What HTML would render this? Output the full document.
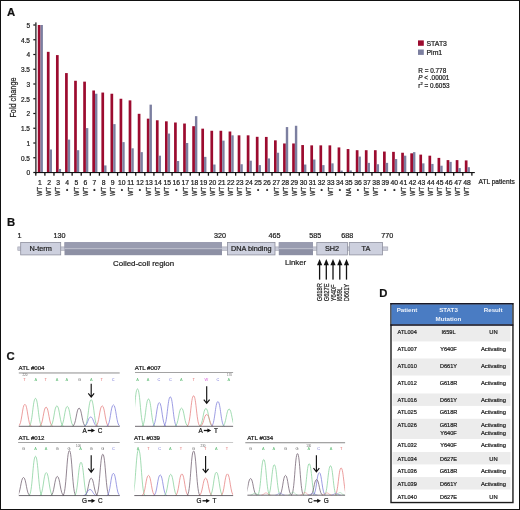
<!DOCTYPE html>
<html lang="en"><head><meta charset="utf-8"><title>STAT3 figure</title>
<style>html,body{margin:0;padding:0;background:#fff}svg{display:block}text{stroke:#222;stroke-width:.22px}text.ns{stroke:none}</style></head>
<body>
<svg width="520" height="510" viewBox="0 0 520 510" font-family='"Liberation Sans", Arial, sans-serif'>
<rect x="0" y="0" width="520" height="510" fill="#fff"/>
<g id="panelA">
<text x="7" y="16.1" font-size="11.3" font-weight="bold" fill="#111">A</text>
<rect x="37.80" y="25.00" width="2.7" height="147.50" fill="#9c0b2f"/>
<rect x="40.50" y="25.00" width="2.4" height="147.50" fill="#7c7fa0"/>
<rect x="46.88" y="51.84" width="2.7" height="120.66" fill="#9c0b2f"/>
<rect x="49.59" y="149.49" width="2.4" height="23.01" fill="#7c7fa0"/>
<rect x="55.97" y="55.09" width="2.7" height="117.41" fill="#9c0b2f"/>
<rect x="58.67" y="168.96" width="2.4" height="3.54" fill="#7c7fa0"/>
<rect x="65.06" y="73.08" width="2.7" height="99.42" fill="#9c0b2f"/>
<rect x="67.76" y="139.61" width="2.4" height="32.89" fill="#7c7fa0"/>
<rect x="74.14" y="80.76" width="2.7" height="91.74" fill="#9c0b2f"/>
<rect x="76.84" y="150.20" width="2.4" height="22.30" fill="#7c7fa0"/>
<rect x="83.22" y="81.64" width="2.7" height="90.86" fill="#9c0b2f"/>
<rect x="85.92" y="128.10" width="2.4" height="44.40" fill="#7c7fa0"/>
<rect x="92.31" y="90.49" width="2.7" height="82.01" fill="#9c0b2f"/>
<rect x="95.01" y="93.73" width="2.4" height="78.77" fill="#7c7fa0"/>
<rect x="101.40" y="92.56" width="2.7" height="79.94" fill="#9c0b2f"/>
<rect x="104.10" y="165.42" width="2.4" height="7.08" fill="#7c7fa0"/>
<rect x="110.48" y="93.73" width="2.7" height="78.77" fill="#9c0b2f"/>
<rect x="113.18" y="124.12" width="2.4" height="48.38" fill="#7c7fa0"/>
<rect x="119.57" y="98.75" width="2.7" height="73.75" fill="#9c0b2f"/>
<rect x="122.27" y="142.12" width="2.4" height="30.39" fill="#7c7fa0"/>
<rect x="128.65" y="100.37" width="2.7" height="72.13" fill="#9c0b2f"/>
<rect x="131.35" y="148.31" width="2.4" height="24.19" fill="#7c7fa0"/>
<rect x="137.74" y="113.80" width="2.7" height="58.70" fill="#9c0b2f"/>
<rect x="140.44" y="152.15" width="2.4" height="20.35" fill="#7c7fa0"/>
<rect x="146.82" y="118.66" width="2.7" height="53.84" fill="#9c0b2f"/>
<rect x="149.52" y="104.65" width="2.4" height="67.85" fill="#7c7fa0"/>
<rect x="155.91" y="120.28" width="2.7" height="52.22" fill="#9c0b2f"/>
<rect x="158.61" y="155.69" width="2.4" height="16.81" fill="#7c7fa0"/>
<rect x="164.99" y="121.32" width="2.7" height="51.18" fill="#9c0b2f"/>
<rect x="167.69" y="133.56" width="2.4" height="38.94" fill="#7c7fa0"/>
<rect x="174.07" y="122.50" width="2.7" height="50.00" fill="#9c0b2f"/>
<rect x="176.77" y="161.00" width="2.4" height="11.51" fill="#7c7fa0"/>
<rect x="183.16" y="123.53" width="2.7" height="48.97" fill="#9c0b2f"/>
<rect x="185.86" y="143.00" width="2.4" height="29.50" fill="#7c7fa0"/>
<rect x="192.25" y="126.19" width="2.7" height="46.32" fill="#9c0b2f"/>
<rect x="194.94" y="116.16" width="2.4" height="56.34" fill="#7c7fa0"/>
<rect x="201.33" y="128.66" width="2.7" height="43.84" fill="#9c0b2f"/>
<rect x="204.03" y="156.87" width="2.4" height="15.64" fill="#7c7fa0"/>
<rect x="210.42" y="130.76" width="2.7" height="41.74" fill="#9c0b2f"/>
<rect x="213.12" y="164.53" width="2.4" height="7.97" fill="#7c7fa0"/>
<rect x="219.50" y="130.76" width="2.7" height="41.74" fill="#9c0b2f"/>
<rect x="222.20" y="140.64" width="2.4" height="31.86" fill="#7c7fa0"/>
<rect x="228.59" y="131.50" width="2.7" height="41.00" fill="#9c0b2f"/>
<rect x="231.29" y="135.33" width="2.4" height="37.17" fill="#7c7fa0"/>
<rect x="237.67" y="135.33" width="2.7" height="37.17" fill="#9c0b2f"/>
<rect x="240.37" y="164.24" width="2.4" height="8.26" fill="#7c7fa0"/>
<rect x="246.75" y="135.33" width="2.7" height="37.17" fill="#9c0b2f"/>
<rect x="249.45" y="160.70" width="2.4" height="11.80" fill="#7c7fa0"/>
<rect x="255.84" y="136.81" width="2.7" height="35.70" fill="#9c0b2f"/>
<rect x="258.54" y="165.12" width="2.4" height="7.38" fill="#7c7fa0"/>
<rect x="264.93" y="136.92" width="2.7" height="35.58" fill="#9c0b2f"/>
<rect x="267.62" y="158.46" width="2.4" height="14.04" fill="#7c7fa0"/>
<rect x="274.01" y="140.34" width="2.7" height="32.16" fill="#9c0b2f"/>
<rect x="276.71" y="152.74" width="2.4" height="19.77" fill="#7c7fa0"/>
<rect x="283.10" y="143.47" width="2.7" height="29.03" fill="#9c0b2f"/>
<rect x="285.80" y="127.07" width="2.4" height="45.43" fill="#7c7fa0"/>
<rect x="292.18" y="143.47" width="2.7" height="29.03" fill="#9c0b2f"/>
<rect x="294.88" y="125.77" width="2.4" height="46.73" fill="#7c7fa0"/>
<rect x="301.27" y="145.06" width="2.7" height="27.44" fill="#9c0b2f"/>
<rect x="303.97" y="164.53" width="2.4" height="7.97" fill="#7c7fa0"/>
<rect x="310.35" y="145.36" width="2.7" height="27.14" fill="#9c0b2f"/>
<rect x="313.05" y="159.52" width="2.4" height="12.98" fill="#7c7fa0"/>
<rect x="319.44" y="145.36" width="2.7" height="27.14" fill="#9c0b2f"/>
<rect x="322.14" y="165.12" width="2.4" height="7.38" fill="#7c7fa0"/>
<rect x="328.52" y="145.36" width="2.7" height="27.14" fill="#9c0b2f"/>
<rect x="331.22" y="163.35" width="2.4" height="9.14" fill="#7c7fa0"/>
<rect x="337.61" y="147.43" width="2.7" height="25.07" fill="#9c0b2f"/>
<rect x="340.31" y="170.58" width="2.4" height="1.92" fill="#7c7fa0"/>
<rect x="346.69" y="149.05" width="2.7" height="23.45" fill="#9c0b2f"/>
<rect x="349.39" y="170.44" width="2.4" height="2.07" fill="#7c7fa0"/>
<rect x="355.78" y="150.20" width="2.7" height="22.30" fill="#9c0b2f"/>
<rect x="358.48" y="156.57" width="2.4" height="15.93" fill="#7c7fa0"/>
<rect x="364.86" y="150.20" width="2.7" height="22.30" fill="#9c0b2f"/>
<rect x="367.56" y="162.88" width="2.4" height="9.62" fill="#7c7fa0"/>
<rect x="373.95" y="150.20" width="2.7" height="22.30" fill="#9c0b2f"/>
<rect x="376.65" y="164.24" width="2.4" height="8.26" fill="#7c7fa0"/>
<rect x="383.03" y="151.56" width="2.7" height="20.95" fill="#9c0b2f"/>
<rect x="385.73" y="162.88" width="2.4" height="9.62" fill="#7c7fa0"/>
<rect x="392.12" y="151.85" width="2.7" height="20.65" fill="#9c0b2f"/>
<rect x="394.82" y="159.05" width="2.4" height="13.45" fill="#7c7fa0"/>
<rect x="401.20" y="152.74" width="2.7" height="19.77" fill="#9c0b2f"/>
<rect x="403.90" y="155.69" width="2.4" height="16.81" fill="#7c7fa0"/>
<rect x="410.29" y="153.32" width="2.7" height="19.18" fill="#9c0b2f"/>
<rect x="412.99" y="152.15" width="2.4" height="20.35" fill="#7c7fa0"/>
<rect x="419.37" y="154.62" width="2.7" height="17.88" fill="#9c0b2f"/>
<rect x="422.07" y="163.35" width="2.4" height="9.14" fill="#7c7fa0"/>
<rect x="428.46" y="155.69" width="2.7" height="16.81" fill="#9c0b2f"/>
<rect x="431.16" y="163.94" width="2.4" height="8.55" fill="#7c7fa0"/>
<rect x="437.54" y="157.90" width="2.7" height="14.60" fill="#9c0b2f"/>
<rect x="440.24" y="165.72" width="2.4" height="6.79" fill="#7c7fa0"/>
<rect x="446.63" y="160.11" width="2.7" height="12.39" fill="#9c0b2f"/>
<rect x="449.33" y="161.88" width="2.4" height="10.62" fill="#7c7fa0"/>
<rect x="455.71" y="160.11" width="2.7" height="12.39" fill="#9c0b2f"/>
<rect x="458.41" y="168.07" width="2.4" height="4.42" fill="#7c7fa0"/>
<rect x="464.80" y="160.41" width="2.7" height="12.09" fill="#9c0b2f"/>
<rect x="467.50" y="167.19" width="2.4" height="5.31" fill="#7c7fa0"/>
<rect x="35.3" y="22.4" width="1.2" height="151" fill="#111"/>
<rect x="35.3" y="172" width="439.5" height="1.1" fill="#111"/>
<rect x="33.3" y="171.90" width="2.2" height="1.2" fill="#111"/>
<text x="30" y="175.30" font-size="6.5" text-anchor="end" fill="#222">0</text>
<rect x="33.3" y="157.15" width="2.2" height="1.2" fill="#111"/>
<text x="30" y="160.55" font-size="6.5" text-anchor="end" fill="#222">0.5</text>
<rect x="33.3" y="142.40" width="2.2" height="1.2" fill="#111"/>
<text x="30" y="145.80" font-size="6.5" text-anchor="end" fill="#222">1</text>
<rect x="33.3" y="127.65" width="2.2" height="1.2" fill="#111"/>
<text x="30" y="131.05" font-size="6.5" text-anchor="end" fill="#222">1.5</text>
<rect x="33.3" y="112.90" width="2.2" height="1.2" fill="#111"/>
<text x="30" y="116.30" font-size="6.5" text-anchor="end" fill="#222">2</text>
<rect x="33.3" y="98.15" width="2.2" height="1.2" fill="#111"/>
<text x="30" y="101.55" font-size="6.5" text-anchor="end" fill="#222">2.5</text>
<rect x="33.3" y="83.40" width="2.2" height="1.2" fill="#111"/>
<text x="30" y="86.80" font-size="6.5" text-anchor="end" fill="#222">3</text>
<rect x="33.3" y="68.65" width="2.2" height="1.2" fill="#111"/>
<text x="30" y="72.05" font-size="6.5" text-anchor="end" fill="#222">3.5</text>
<rect x="33.3" y="53.90" width="2.2" height="1.2" fill="#111"/>
<text x="30" y="57.30" font-size="6.5" text-anchor="end" fill="#222">4</text>
<rect x="33.3" y="39.15" width="2.2" height="1.2" fill="#111"/>
<text x="30" y="42.55" font-size="6.5" text-anchor="end" fill="#222">4.5</text>
<rect x="33.3" y="24.40" width="2.2" height="1.2" fill="#111"/>
<text x="30" y="27.80" font-size="6.5" text-anchor="end" fill="#222">5</text>
<rect x="35.15" y="172.5" width="1.3" height="3.2" fill="#111"/>
<rect x="44.23" y="172.5" width="1.3" height="3.2" fill="#111"/>
<rect x="53.32" y="172.5" width="1.3" height="3.2" fill="#111"/>
<rect x="62.41" y="172.5" width="1.3" height="3.2" fill="#111"/>
<rect x="71.49" y="172.5" width="1.3" height="3.2" fill="#111"/>
<rect x="80.57" y="172.5" width="1.3" height="3.2" fill="#111"/>
<rect x="89.66" y="172.5" width="1.3" height="3.2" fill="#111"/>
<rect x="98.75" y="172.5" width="1.3" height="3.2" fill="#111"/>
<rect x="107.83" y="172.5" width="1.3" height="3.2" fill="#111"/>
<rect x="116.92" y="172.5" width="1.3" height="3.2" fill="#111"/>
<rect x="126.00" y="172.5" width="1.3" height="3.2" fill="#111"/>
<rect x="135.09" y="172.5" width="1.3" height="3.2" fill="#111"/>
<rect x="144.17" y="172.5" width="1.3" height="3.2" fill="#111"/>
<rect x="153.26" y="172.5" width="1.3" height="3.2" fill="#111"/>
<rect x="162.34" y="172.5" width="1.3" height="3.2" fill="#111"/>
<rect x="171.42" y="172.5" width="1.3" height="3.2" fill="#111"/>
<rect x="180.51" y="172.5" width="1.3" height="3.2" fill="#111"/>
<rect x="189.59" y="172.5" width="1.3" height="3.2" fill="#111"/>
<rect x="198.68" y="172.5" width="1.3" height="3.2" fill="#111"/>
<rect x="207.77" y="172.5" width="1.3" height="3.2" fill="#111"/>
<rect x="216.85" y="172.5" width="1.3" height="3.2" fill="#111"/>
<rect x="225.94" y="172.5" width="1.3" height="3.2" fill="#111"/>
<rect x="235.02" y="172.5" width="1.3" height="3.2" fill="#111"/>
<rect x="244.10" y="172.5" width="1.3" height="3.2" fill="#111"/>
<rect x="253.19" y="172.5" width="1.3" height="3.2" fill="#111"/>
<rect x="262.28" y="172.5" width="1.3" height="3.2" fill="#111"/>
<rect x="271.36" y="172.5" width="1.3" height="3.2" fill="#111"/>
<rect x="280.45" y="172.5" width="1.3" height="3.2" fill="#111"/>
<rect x="289.53" y="172.5" width="1.3" height="3.2" fill="#111"/>
<rect x="298.62" y="172.5" width="1.3" height="3.2" fill="#111"/>
<rect x="307.70" y="172.5" width="1.3" height="3.2" fill="#111"/>
<rect x="316.79" y="172.5" width="1.3" height="3.2" fill="#111"/>
<rect x="325.87" y="172.5" width="1.3" height="3.2" fill="#111"/>
<rect x="334.96" y="172.5" width="1.3" height="3.2" fill="#111"/>
<rect x="344.04" y="172.5" width="1.3" height="3.2" fill="#111"/>
<rect x="353.13" y="172.5" width="1.3" height="3.2" fill="#111"/>
<rect x="362.21" y="172.5" width="1.3" height="3.2" fill="#111"/>
<rect x="371.30" y="172.5" width="1.3" height="3.2" fill="#111"/>
<rect x="380.38" y="172.5" width="1.3" height="3.2" fill="#111"/>
<rect x="389.47" y="172.5" width="1.3" height="3.2" fill="#111"/>
<rect x="398.55" y="172.5" width="1.3" height="3.2" fill="#111"/>
<rect x="407.64" y="172.5" width="1.3" height="3.2" fill="#111"/>
<rect x="416.72" y="172.5" width="1.3" height="3.2" fill="#111"/>
<rect x="425.81" y="172.5" width="1.3" height="3.2" fill="#111"/>
<rect x="434.89" y="172.5" width="1.3" height="3.2" fill="#111"/>
<rect x="443.98" y="172.5" width="1.3" height="3.2" fill="#111"/>
<rect x="453.06" y="172.5" width="1.3" height="3.2" fill="#111"/>
<rect x="462.15" y="172.5" width="1.3" height="3.2" fill="#111"/>
<rect x="471.23" y="172.5" width="1.3" height="3.2" fill="#111"/>
<text x="40.00" y="184.5" font-size="6.8" text-anchor="middle" fill="#222">1</text>
<text transform="translate(42.30,195.9) rotate(-90) scale(0.9,1)" font-size="6.4" fill="#222">WT</text>
<text x="49.09" y="184.5" font-size="6.8" text-anchor="middle" fill="#222">2</text>
<text transform="translate(51.38,195.9) rotate(-90) scale(0.9,1)" font-size="6.4" fill="#222">WT</text>
<text x="58.17" y="184.5" font-size="6.8" text-anchor="middle" fill="#222">3</text>
<text transform="translate(60.47,195.9) rotate(-90) scale(0.9,1)" font-size="6.4" fill="#222">WT</text>
<text x="67.25" y="184.5" font-size="6.8" text-anchor="middle" fill="#222">4</text>
<text x="67.25" y="191.5" font-size="6.5" text-anchor="middle" fill="#222">•</text>
<text x="76.34" y="184.5" font-size="6.8" text-anchor="middle" fill="#222">5</text>
<text transform="translate(78.64,195.9) rotate(-90) scale(0.9,1)" font-size="6.4" fill="#222">WT</text>
<text x="85.43" y="184.5" font-size="6.8" text-anchor="middle" fill="#222">6</text>
<text transform="translate(87.73,195.9) rotate(-90) scale(0.9,1)" font-size="6.4" fill="#222">WT</text>
<text x="94.51" y="184.5" font-size="6.8" text-anchor="middle" fill="#222">7</text>
<text x="94.51" y="191.5" font-size="6.5" text-anchor="middle" fill="#222">•</text>
<text x="103.59" y="184.5" font-size="6.8" text-anchor="middle" fill="#222">8</text>
<text transform="translate(105.89,195.9) rotate(-90) scale(0.9,1)" font-size="6.4" fill="#222">WT</text>
<text x="112.68" y="184.5" font-size="6.8" text-anchor="middle" fill="#222">9</text>
<text transform="translate(114.98,195.9) rotate(-90) scale(0.9,1)" font-size="6.4" fill="#222">WT</text>
<text x="121.77" y="184.5" font-size="6.8" text-anchor="middle" fill="#222">10</text>
<text x="121.77" y="191.5" font-size="6.5" text-anchor="middle" fill="#222">•</text>
<text x="130.85" y="184.5" font-size="6.8" text-anchor="middle" fill="#222">11</text>
<text transform="translate(133.15,195.9) rotate(-90) scale(0.9,1)" font-size="6.4" fill="#222">WT</text>
<text x="139.94" y="184.5" font-size="6.8" text-anchor="middle" fill="#222">12</text>
<text x="139.94" y="191.5" font-size="6.5" text-anchor="middle" fill="#222">•</text>
<text x="149.02" y="184.5" font-size="6.8" text-anchor="middle" fill="#222">13</text>
<text transform="translate(151.32,195.9) rotate(-90) scale(0.9,1)" font-size="6.4" fill="#222">WT</text>
<text x="158.11" y="184.5" font-size="6.8" text-anchor="middle" fill="#222">14</text>
<text transform="translate(160.41,195.9) rotate(-90) scale(0.9,1)" font-size="6.4" fill="#222">WT</text>
<text x="167.19" y="184.5" font-size="6.8" text-anchor="middle" fill="#222">15</text>
<text transform="translate(169.49,195.9) rotate(-90) scale(0.9,1)" font-size="6.4" fill="#222">WT</text>
<text x="176.28" y="184.5" font-size="6.8" text-anchor="middle" fill="#222">16</text>
<text x="176.28" y="191.5" font-size="6.5" text-anchor="middle" fill="#222">•</text>
<text x="185.36" y="184.5" font-size="6.8" text-anchor="middle" fill="#222">17</text>
<text transform="translate(187.66,195.9) rotate(-90) scale(0.9,1)" font-size="6.4" fill="#222">WT</text>
<text x="194.45" y="184.5" font-size="6.8" text-anchor="middle" fill="#222">18</text>
<text transform="translate(196.75,195.9) rotate(-90) scale(0.9,1)" font-size="6.4" fill="#222">WT</text>
<text x="203.53" y="184.5" font-size="6.8" text-anchor="middle" fill="#222">19</text>
<text transform="translate(205.83,195.9) rotate(-90) scale(0.9,1)" font-size="6.4" fill="#222">WT</text>
<text x="212.62" y="184.5" font-size="6.8" text-anchor="middle" fill="#222">20</text>
<text transform="translate(214.92,195.9) rotate(-90) scale(0.9,1)" font-size="6.4" fill="#222">WT</text>
<text x="221.70" y="184.5" font-size="6.8" text-anchor="middle" fill="#222">21</text>
<text transform="translate(224.00,195.9) rotate(-90) scale(0.9,1)" font-size="6.4" fill="#222">WT</text>
<text x="230.79" y="184.5" font-size="6.8" text-anchor="middle" fill="#222">22</text>
<text transform="translate(233.09,195.9) rotate(-90) scale(0.9,1)" font-size="6.4" fill="#222">WT</text>
<text x="239.87" y="184.5" font-size="6.8" text-anchor="middle" fill="#222">23</text>
<text transform="translate(242.17,195.9) rotate(-90) scale(0.9,1)" font-size="6.4" fill="#222">WT</text>
<text x="248.96" y="184.5" font-size="6.8" text-anchor="middle" fill="#222">24</text>
<text transform="translate(251.26,195.9) rotate(-90) scale(0.9,1)" font-size="6.4" fill="#222">WT</text>
<text x="258.04" y="184.5" font-size="6.8" text-anchor="middle" fill="#222">25</text>
<text x="258.04" y="191.5" font-size="6.5" text-anchor="middle" fill="#222">•</text>
<text x="267.12" y="184.5" font-size="6.8" text-anchor="middle" fill="#222">26</text>
<text x="267.12" y="191.5" font-size="6.5" text-anchor="middle" fill="#222">•</text>
<text x="276.21" y="184.5" font-size="6.8" text-anchor="middle" fill="#222">27</text>
<text transform="translate(278.51,195.9) rotate(-90) scale(0.9,1)" font-size="6.4" fill="#222">WT</text>
<text x="285.30" y="184.5" font-size="6.8" text-anchor="middle" fill="#222">28</text>
<text transform="translate(287.60,195.9) rotate(-90) scale(0.9,1)" font-size="6.4" fill="#222">WT</text>
<text x="294.38" y="184.5" font-size="6.8" text-anchor="middle" fill="#222">29</text>
<text transform="translate(296.68,195.9) rotate(-90) scale(0.9,1)" font-size="6.4" fill="#222">WT</text>
<text x="303.47" y="184.5" font-size="6.8" text-anchor="middle" fill="#222">30</text>
<text transform="translate(305.77,195.9) rotate(-90) scale(0.9,1)" font-size="6.4" fill="#222">WT</text>
<text x="312.55" y="184.5" font-size="6.8" text-anchor="middle" fill="#222">31</text>
<text transform="translate(314.85,195.9) rotate(-90) scale(0.9,1)" font-size="6.4" fill="#222">WT</text>
<text x="321.64" y="184.5" font-size="6.8" text-anchor="middle" fill="#222">32</text>
<text x="321.64" y="191.5" font-size="6.5" text-anchor="middle" fill="#222">•</text>
<text x="330.72" y="184.5" font-size="6.8" text-anchor="middle" fill="#222">33</text>
<text transform="translate(333.02,195.9) rotate(-90) scale(0.9,1)" font-size="6.4" fill="#222">WT</text>
<text x="339.81" y="184.5" font-size="6.8" text-anchor="middle" fill="#222">34</text>
<text x="339.81" y="191.5" font-size="6.5" text-anchor="middle" fill="#222">•</text>
<text x="348.89" y="184.5" font-size="6.8" text-anchor="middle" fill="#222">35</text>
<text transform="translate(351.19,195.9) rotate(-90) scale(0.9,1)" font-size="6.4" fill="#222">NA</text>
<text x="357.98" y="184.5" font-size="6.8" text-anchor="middle" fill="#222">36</text>
<text x="357.98" y="191.5" font-size="6.5" text-anchor="middle" fill="#222">•</text>
<text x="367.06" y="184.5" font-size="6.8" text-anchor="middle" fill="#222">37</text>
<text transform="translate(369.36,195.9) rotate(-90) scale(0.9,1)" font-size="6.4" fill="#222">WT</text>
<text x="376.15" y="184.5" font-size="6.8" text-anchor="middle" fill="#222">38</text>
<text transform="translate(378.45,195.9) rotate(-90) scale(0.9,1)" font-size="6.4" fill="#222">WT</text>
<text x="385.23" y="184.5" font-size="6.8" text-anchor="middle" fill="#222">39</text>
<text x="385.23" y="191.5" font-size="6.5" text-anchor="middle" fill="#222">•</text>
<text x="394.32" y="184.5" font-size="6.8" text-anchor="middle" fill="#222">40</text>
<text x="394.32" y="191.5" font-size="6.5" text-anchor="middle" fill="#222">•</text>
<text x="403.40" y="184.5" font-size="6.8" text-anchor="middle" fill="#222">41</text>
<text transform="translate(405.70,195.9) rotate(-90) scale(0.9,1)" font-size="6.4" fill="#222">WT</text>
<text x="412.49" y="184.5" font-size="6.8" text-anchor="middle" fill="#222">42</text>
<text transform="translate(414.79,195.9) rotate(-90) scale(0.9,1)" font-size="6.4" fill="#222">WT</text>
<text x="421.57" y="184.5" font-size="6.8" text-anchor="middle" fill="#222">43</text>
<text transform="translate(423.87,195.9) rotate(-90) scale(0.9,1)" font-size="6.4" fill="#222">WT</text>
<text x="430.66" y="184.5" font-size="6.8" text-anchor="middle" fill="#222">44</text>
<text transform="translate(432.96,195.9) rotate(-90) scale(0.9,1)" font-size="6.4" fill="#222">WT</text>
<text x="439.74" y="184.5" font-size="6.8" text-anchor="middle" fill="#222">45</text>
<text transform="translate(442.04,195.9) rotate(-90) scale(0.9,1)" font-size="6.4" fill="#222">WT</text>
<text x="448.83" y="184.5" font-size="6.8" text-anchor="middle" fill="#222">46</text>
<text transform="translate(451.13,195.9) rotate(-90) scale(0.9,1)" font-size="6.4" fill="#222">WT</text>
<text x="457.91" y="184.5" font-size="6.8" text-anchor="middle" fill="#222">47</text>
<text transform="translate(460.21,195.9) rotate(-90) scale(0.9,1)" font-size="6.4" fill="#222">WT</text>
<text x="467.00" y="184.5" font-size="6.8" text-anchor="middle" fill="#222">48</text>
<text transform="translate(469.30,195.9) rotate(-90) scale(0.9,1)" font-size="6.4" fill="#222">WT</text>
<text x="478.5" y="184.4" font-size="6.6" fill="#222">ATL patients</text>
<text transform="translate(16.2,117.6) rotate(-90) scale(0.89,1)" font-size="8.2" fill="#222">Fold change</text>
<rect x="418" y="40.4" width="5.8" height="5.4" fill="#9c0b2f"/>
<rect x="418" y="49.5" width="5.8" height="5.4" fill="#7c7fa0"/>
<text x="426.5" y="45.8" font-size="6.9" fill="#222">STAT3</text>
<text x="426.5" y="54.8" font-size="6.9" fill="#222">Pim1</text>
<text x="418.3" y="72.8" font-size="6.4" fill="#222">R = 0.778</text>
<text x="418.3" y="80.2" font-size="6.4" fill="#222"><tspan font-style="italic">P</tspan> &lt; .00001</text>
<text x="418.3" y="87.8" font-size="6.4" fill="#222">r<tspan font-size="4" dy="-2.6">2</tspan><tspan dy="2.6"> = 0.6053</tspan></text>
</g>
<g id="panelB">
<text x="7" y="225.6" font-size="11.3" font-weight="bold" fill="#111">B</text>
<rect x="17.8" y="246.9" width="370" height="3.4" fill="#c9cbd8" stroke="#a0a2b0" stroke-width="0.6"/>
<rect x="20.7" y="242.5" width="40.0" height="12.4" fill="#cdd0de" stroke="#8e909e" stroke-width="0.8"/>
<text x="40.70" y="251.2" font-size="7.3" text-anchor="middle" fill="#222">N-term</text>
<rect x="64.5" y="242.2" width="157.5" height="13" fill="#8d90a4"/>
<rect x="64.5" y="242.2" width="157.5" height="6" fill="#999cb0"/>
<rect x="64.5" y="248" width="157.5" height="1.2" fill="#b9bbc9"/>
<rect x="227.5" y="242.5" width="47.5" height="12.4" fill="#cdd0de" stroke="#8e909e" stroke-width="0.8"/>
<text x="251.25" y="251.2" font-size="7.3" text-anchor="middle" fill="#222">DNA binding</text>
<rect x="278.8" y="242.2" width="34.19999999999999" height="13" fill="#8d90a4"/>
<rect x="278.8" y="242.2" width="34.19999999999999" height="6" fill="#999cb0"/>
<rect x="278.8" y="248" width="34.19999999999999" height="1.2" fill="#b9bbc9"/>
<rect x="316.8" y="242.5" width="30.599999999999966" height="12.4" fill="#cdd0de" stroke="#8e909e" stroke-width="0.8"/>
<text x="332.10" y="251.2" font-size="7.3" text-anchor="middle" fill="#222">SH2</text>
<rect x="349.3" y="242.5" width="33.19999999999999" height="12.4" fill="#cdd0de" stroke="#8e909e" stroke-width="0.8"/>
<text x="365.90" y="251.2" font-size="7.3" text-anchor="middle" fill="#222">TA</text>
<text x="19.5" y="238.1" font-size="7.2" text-anchor="middle" fill="#222">1</text>
<text x="59.4" y="238.1" font-size="7.2" text-anchor="middle" fill="#222">130</text>
<text x="220" y="238.1" font-size="7.2" text-anchor="middle" fill="#222">320</text>
<text x="274.6" y="238.1" font-size="7.2" text-anchor="middle" fill="#222">465</text>
<text x="315.2" y="238.1" font-size="7.2" text-anchor="middle" fill="#222">585</text>
<text x="347.2" y="238.1" font-size="7.2" text-anchor="middle" fill="#222">688</text>
<text x="387.2" y="238.1" font-size="7.2" text-anchor="middle" fill="#222">770</text>
<text x="143.6" y="265.6" font-size="7.9" text-anchor="middle" fill="#222">Coiled-coil region</text>
<text x="295.6" y="265.4" font-size="7.8" text-anchor="middle" fill="#222">Linker</text>
<rect x="318.95" y="263" width="1.3" height="16.6" fill="#111"/>
<path d="M319.6,258.9 L322.20000000000005,265.2 L317.0,265.2 Z" fill="#111"/>
<text transform="translate(322.10,301.3) rotate(-90) scale(0.83,1)" font-size="6.9" fill="#222">G618R</text>
<rect x="325.65" y="263" width="1.3" height="16.6" fill="#111"/>
<path d="M326.3,258.9 L328.90000000000003,265.2 L323.7,265.2 Z" fill="#111"/>
<text transform="translate(328.80,301.3) rotate(-90) scale(0.83,1)" font-size="6.9" fill="#222">G627E</text>
<rect x="332.35" y="263" width="1.3" height="16.6" fill="#111"/>
<path d="M333.0,258.9 L335.6,265.2 L330.4,265.2 Z" fill="#111"/>
<text transform="translate(335.50,301.3) rotate(-90) scale(0.83,1)" font-size="6.9" fill="#222">Y640F</text>
<rect x="339.15" y="263" width="1.3" height="16.6" fill="#111"/>
<path d="M339.8,258.9 L342.40000000000003,265.2 L337.2,265.2 Z" fill="#111"/>
<text transform="translate(342.30,301.3) rotate(-90) scale(0.83,1)" font-size="6.9" fill="#222">I659L</text>
<rect x="345.85" y="263" width="1.3" height="16.6" fill="#111"/>
<path d="M346.5,258.9 L349.1,265.2 L343.9,265.2 Z" fill="#111"/>
<text transform="translate(349.00,301.3) rotate(-90) scale(0.83,1)" font-size="6.9" fill="#222">D661Y</text>
</g>
<g id="panelC">
<text x="6.6" y="360.2" font-size="11.3" font-weight="bold" fill="#111">C</text>
<clipPath id="cl1"><rect x="18.8" y="372.6" width="100.9" height="55.5"/></clipPath>
<text x="18.6" y="369.8" font-size="6.15" fill="#111">ATL #004</text>
<rect x="18.8" y="372.2" width="100.9" height="1.5" fill="#b4b4b4"/>
<g clip-path="url(#cl1)">
<path d="M18.30,426.10 C21.93,426.10 22.13,404.30 24.90,404.30 C27.67,404.30 27.87,426.10 31.50,426.10" fill="none" stroke="#e67e7e" stroke-width="0.75"/>
<path d="M28.90,426.10 C32.53,426.10 32.73,398.40 35.50,398.40 C38.27,398.40 38.47,426.10 42.10,426.10" fill="none" stroke="#84d09a" stroke-width="0.75"/>
<path d="M39.50,426.10 C43.13,426.10 43.33,407.10 46.10,407.10 C48.87,407.10 49.07,426.10 52.70,426.10" fill="none" stroke="#e67e7e" stroke-width="0.75"/>
<path d="M50.30,426.10 C53.93,426.10 54.13,405.80 56.90,405.80 C59.67,405.80 59.87,426.10 63.50,426.10" fill="none" stroke="#84d09a" stroke-width="0.75"/>
<path d="M60.70,426.10 C64.33,426.10 64.53,406.40 67.30,406.40 C70.07,406.40 70.27,426.10 73.90,426.10" fill="none" stroke="#84d09a" stroke-width="0.75"/>
<path d="M72.50,426.10 C76.13,426.10 76.33,408.10 79.10,408.10 C81.87,408.10 82.07,426.10 85.70,426.10" fill="none" stroke="#6d5c6c" stroke-width="0.75"/>
<path d="M84.60,426.10 C88.23,426.10 88.43,399.70 91.20,399.70 C93.97,399.70 94.17,426.10 97.80,426.10" fill="none" stroke="#84d09a" stroke-width="0.75"/>
<path d="M84.10,426.10 C87.73,426.10 87.93,417.00 90.70,417.00 C93.47,417.00 93.67,426.10 97.30,426.10" fill="none" stroke="#7c7cda" stroke-width="0.75"/>
<path d="M95.60,426.10 C99.23,426.10 99.43,405.80 102.20,405.80 C104.97,405.80 105.17,426.10 108.80,426.10" fill="none" stroke="#e67e7e" stroke-width="0.75"/>
<path d="M106.80,426.10 C110.43,426.10 110.63,404.90 113.40,404.90 C116.17,404.90 116.37,426.10 120.00,426.10" fill="none" stroke="#7c7cda" stroke-width="0.75"/>
</g>
<rect x="18.8" y="425.85" width="100.9" height="0.8" fill="#4a444c"/>
<text x="24.5" y="380.7" class="ns" font-size="3.9" text-anchor="middle" fill="#e06a6a" stroke="#e06a6a" stroke-width="0.12">T</text>
<text x="35.75" y="380.7" class="ns" font-size="3.9" text-anchor="middle" fill="#62bd78" stroke="#62bd78" stroke-width="0.12">A</text>
<text x="45.75" y="380.7" class="ns" font-size="3.9" text-anchor="middle" fill="#e06a6a" stroke="#e06a6a" stroke-width="0.12">T</text>
<text x="57" y="380.7" class="ns" font-size="3.9" text-anchor="middle" fill="#62bd78" stroke="#62bd78" stroke-width="0.12">A</text>
<text x="66.75" y="380.7" class="ns" font-size="3.9" text-anchor="middle" fill="#62bd78" stroke="#62bd78" stroke-width="0.12">A</text>
<text x="79.5" y="380.7" class="ns" font-size="3.9" text-anchor="middle" fill="#555" stroke="#555" stroke-width="0.12">G</text>
<text x="91.25" y="380.7" class="ns" font-size="3.9" text-anchor="middle" fill="#62bd78" stroke="#62bd78" stroke-width="0.12">A</text>
<text x="101.75" y="380.7" class="ns" font-size="3.9" text-anchor="middle" fill="#e06a6a" stroke="#e06a6a" stroke-width="0.12">T</text>
<text x="113.25" y="380.7" class="ns" font-size="3.9" text-anchor="middle" fill="#6c6cd4" stroke="#6c6cd4" stroke-width="0.12">C</text>
<text x="25" y="376.3" class="ns" font-size="3" text-anchor="middle" fill="#666">220</text>
<path d="M91.2,383.8 L91.2,396.4 M88.3,393.3 L91.2,397 L94.10000000000001,393.3" fill="none" stroke="#111" stroke-width="1.15"/>
<text x="86.7" y="432.8" font-size="6.4" text-anchor="end" fill="#111">A</text>
<rect x="87.7" y="429.85" width="4.6" height="1.3" fill="#111"/>
<path d="M95.10000000000001,430.5 L91.30000000000001,428.4 L91.30000000000001,432.6 Z" fill="#111"/>
<text x="97.80000000000001" y="432.8" font-size="6.4" fill="#111">C</text>
<clipPath id="cl2"><rect x="135" y="372.6" width="98.1" height="55.5"/></clipPath>
<text x="134.8" y="370.40000000000003" font-size="6.15" fill="#111">ATL #007</text>
<rect x="135" y="372.2" width="98.1" height="0.8" fill="#8c8c8c"/>
<g clip-path="url(#cl2)">
<path d="M130.90,426.10 C134.53,426.10 134.73,388.90 137.50,388.90 C140.27,388.90 140.47,426.10 144.10,426.10" fill="none" stroke="#84d09a" stroke-width="0.75"/>
<path d="M141.90,426.10 C145.53,426.10 145.73,399.00 148.50,399.00 C151.27,399.00 151.47,426.10 155.10,426.10" fill="none" stroke="#84d09a" stroke-width="0.75"/>
<path d="M152.70,426.10 C156.33,426.10 156.53,402.60 159.30,402.60 C162.07,402.60 162.27,426.10 165.90,426.10" fill="none" stroke="#7c7cda" stroke-width="0.75"/>
<path d="M163.70,426.10 C167.33,426.10 167.53,396.90 170.30,396.90 C173.07,396.90 173.27,426.10 176.90,426.10" fill="none" stroke="#7c7cda" stroke-width="0.75"/>
<path d="M174.90,426.10 C178.53,426.10 178.73,408.10 181.50,408.10 C184.27,408.10 184.47,426.10 188.10,426.10" fill="none" stroke="#84d09a" stroke-width="0.75"/>
<path d="M187.00,426.10 C190.63,426.10 190.83,395.80 193.60,395.80 C196.37,395.80 196.57,426.10 200.20,426.10" fill="none" stroke="#e67e7e" stroke-width="0.75"/>
<path d="M199.30,426.10 C202.93,426.10 203.13,408.50 205.90,408.50 C208.67,408.50 208.87,426.10 212.50,426.10" fill="none" stroke="#84d09a" stroke-width="0.75"/>
<path d="M200.10,426.10 C203.73,426.10 203.93,414.50 206.70,414.50 C209.47,414.50 209.67,426.10 213.30,426.10" fill="none" stroke="#e67e7e" stroke-width="0.75"/>
<path d="M211.30,426.10 C214.93,426.10 215.13,401.60 217.90,401.60 C220.67,401.60 220.87,426.10 224.50,426.10" fill="none" stroke="#7c7cda" stroke-width="0.75"/>
<path d="M222.50,426.10 C226.13,426.10 226.33,409.00 229.10,409.00 C231.87,409.00 232.07,426.10 235.70,426.10" fill="none" stroke="#84d09a" stroke-width="0.75"/>
</g>
<rect x="135" y="425.85" width="98.1" height="0.8" fill="#4a444c"/>
<text x="137.5" y="380.5" class="ns" font-size="3.9" text-anchor="middle" fill="#62bd78" stroke="#62bd78" stroke-width="0.12">A</text>
<text x="148" y="380.5" class="ns" font-size="3.9" text-anchor="middle" fill="#62bd78" stroke="#62bd78" stroke-width="0.12">A</text>
<text x="159" y="380.5" class="ns" font-size="3.9" text-anchor="middle" fill="#6c6cd4" stroke="#6c6cd4" stroke-width="0.12">C</text>
<text x="170.3" y="380.5" class="ns" font-size="3.9" text-anchor="middle" fill="#6c6cd4" stroke="#6c6cd4" stroke-width="0.12">C</text>
<text x="181.3" y="380.5" class="ns" font-size="3.9" text-anchor="middle" fill="#62bd78" stroke="#62bd78" stroke-width="0.12">A</text>
<text x="193.6" y="380.5" class="ns" font-size="3.9" text-anchor="middle" fill="#e06a6a" stroke="#e06a6a" stroke-width="0.12">T</text>
<text x="206.3" y="380.5" class="ns" font-size="3.9" text-anchor="middle" fill="#d458d4" stroke="#d458d4" stroke-width="0.12">W</text>
<text x="217.9" y="380.5" class="ns" font-size="3.9" text-anchor="middle" fill="#6c6cd4" stroke="#6c6cd4" stroke-width="0.12">C</text>
<text x="228.9" y="380.5" class="ns" font-size="3.9" text-anchor="middle" fill="#62bd78" stroke="#62bd78" stroke-width="0.12">A</text>
<text x="229.5" y="376.3" class="ns" font-size="3" text-anchor="middle" fill="#666">170</text>
<path d="M206.7,386.3 L206.7,402.7 M203.79999999999998,399.6 L206.7,403.3 L209.6,399.6" fill="none" stroke="#111" stroke-width="1.15"/>
<text x="202.8" y="432.8" font-size="6.4" text-anchor="end" fill="#111">A</text>
<rect x="203.8" y="429.85" width="4.6" height="1.3" fill="#111"/>
<path d="M211.2,430.5 L207.4,428.4 L207.4,432.6 Z" fill="#111"/>
<text x="213.9" y="432.8" font-size="6.4" fill="#111">T</text>
<clipPath id="cl3"><rect x="18.8" y="443" width="100.9" height="54.5"/></clipPath>
<text x="18.6" y="439.90000000000003" font-size="6.15" fill="#111">ATL #012</text>
<rect x="18.1" y="442.1" width="101.6" height="0.9" fill="#9a9a9a"/>
<g clip-path="url(#cl3)">
<path d="M16.90,495.50 C20.53,495.50 20.73,477.50 23.50,477.50 C26.27,477.50 26.47,495.50 30.10,495.50" fill="none" stroke="#6d5c6c" stroke-width="0.75"/>
<path d="M28.90,495.50 C32.53,495.50 32.73,456.30 35.50,456.30 C38.27,456.30 38.47,495.50 42.10,495.50" fill="none" stroke="#84d09a" stroke-width="0.75"/>
<path d="M39.70,495.50 C43.33,495.50 43.53,472.60 46.30,472.60 C49.07,472.60 49.27,495.50 52.90,495.50" fill="none" stroke="#84d09a" stroke-width="0.75"/>
<path d="M50.70,495.50 C54.33,495.50 54.53,476.40 57.30,476.40 C60.07,476.40 60.27,495.50 63.90,495.50" fill="none" stroke="#6d5c6c" stroke-width="0.75"/>
<path d="M62.80,495.50 C66.43,495.50 66.63,450.60 69.40,450.60 C72.17,450.60 72.37,495.50 76.00,495.50" fill="none" stroke="#6d5c6c" stroke-width="0.75"/>
<path d="M74.40,495.50 C78.03,495.50 78.23,462.30 81.00,462.30 C83.77,462.30 83.97,495.50 87.60,495.50" fill="none" stroke="#84d09a" stroke-width="0.75"/>
<path d="M84.60,495.50 C88.23,495.50 88.43,478.10 91.20,478.10 C93.97,478.10 94.17,495.50 97.80,495.50" fill="none" stroke="#6d5c6c" stroke-width="0.75"/>
<path d="M83.40,495.50 C87.03,495.50 87.23,489.50 90.00,489.50 C92.77,489.50 92.97,495.50 96.60,495.50" fill="none" stroke="#7c7cda" stroke-width="0.75"/>
<path d="M96.20,495.50 C99.83,495.50 100.03,454.20 102.80,454.20 C105.57,454.20 105.77,495.50 109.40,495.50" fill="none" stroke="#6d5c6c" stroke-width="0.75"/>
<path d="M106.80,495.50 C110.43,495.50 110.63,473.30 113.40,473.30 C116.17,473.30 116.37,495.50 120.00,495.50" fill="none" stroke="#7c7cda" stroke-width="0.75"/>
</g>
<rect x="18.8" y="495.25" width="100.9" height="0.8" fill="#4a444c"/>
<text x="23.5" y="449.7" class="ns" font-size="3.9" text-anchor="middle" fill="#555" stroke="#555" stroke-width="0.12">G</text>
<text x="35.5" y="449.7" class="ns" font-size="3.9" text-anchor="middle" fill="#62bd78" stroke="#62bd78" stroke-width="0.12">A</text>
<text x="46.1" y="449.7" class="ns" font-size="3.9" text-anchor="middle" fill="#62bd78" stroke="#62bd78" stroke-width="0.12">A</text>
<text x="57.3" y="449.7" class="ns" font-size="3.9" text-anchor="middle" fill="#555" stroke="#555" stroke-width="0.12">G</text>
<text x="68.9" y="449.7" class="ns" font-size="3.9" text-anchor="middle" fill="#555" stroke="#555" stroke-width="0.12">G</text>
<text x="80.6" y="449.7" class="ns" font-size="3.9" text-anchor="middle" fill="#62bd78" stroke="#62bd78" stroke-width="0.12">A</text>
<text x="91.2" y="449.7" class="ns" font-size="3.9" text-anchor="middle" fill="#555" stroke="#555" stroke-width="0.12">G</text>
<text x="102.8" y="449.7" class="ns" font-size="3.9" text-anchor="middle" fill="#555" stroke="#555" stroke-width="0.12">G</text>
<text x="113.4" y="449.7" class="ns" font-size="3.9" text-anchor="middle" fill="#6c6cd4" stroke="#6c6cd4" stroke-width="0.12">C</text>
<text x="78.5" y="446.7" class="ns" font-size="3" text-anchor="middle" fill="#666">100</text>
<path d="M91.2,455.3 L91.2,471.59999999999997 M88.3,468.5 L91.2,472.2 L94.10000000000001,468.5" fill="none" stroke="#111" stroke-width="1.15"/>
<text x="86.89999999999999" y="503.1" font-size="6.4" text-anchor="end" fill="#111">G</text>
<rect x="87.89999999999999" y="500.15000000000003" width="4.6" height="1.3" fill="#111"/>
<path d="M95.3,500.8 L91.5,498.7 L91.5,502.90000000000003 Z" fill="#111"/>
<text x="98.0" y="503.1" font-size="6.4" fill="#111">C</text>
<clipPath id="cl4"><rect x="134.3" y="443" width="98.79999999999998" height="54.5"/></clipPath>
<text x="134.10000000000002" y="439.90000000000003" font-size="6.15" fill="#111">ATL #039</text>
<rect x="134.3" y="442.0" width="98.79999999999998" height="0.8" fill="#bcbcbc"/>
<g clip-path="url(#cl4)">
<path d="M132.00,495.50 C135.63,495.50 135.83,449.60 138.60,449.60 C141.37,449.60 141.57,495.50 145.20,495.50" fill="none" stroke="#84d09a" stroke-width="0.75"/>
<path d="M141.90,495.50 C145.53,495.50 145.73,475.40 148.50,475.40 C151.27,475.40 151.47,495.50 155.10,495.50" fill="none" stroke="#e67e7e" stroke-width="0.75"/>
<path d="M153.60,495.50 C157.23,495.50 157.43,474.90 160.20,474.90 C162.97,474.90 163.17,495.50 166.80,495.50" fill="none" stroke="#7c7cda" stroke-width="0.75"/>
<path d="M164.10,495.50 C167.73,495.50 167.93,474.30 170.70,474.30 C173.47,474.30 173.67,495.50 177.30,495.50" fill="none" stroke="#84d09a" stroke-width="0.75"/>
<path d="M175.30,495.50 C178.93,495.50 179.13,473.90 181.90,473.90 C184.67,473.90 184.87,495.50 188.50,495.50" fill="none" stroke="#e67e7e" stroke-width="0.75"/>
<path d="M187.00,495.50 C190.63,495.50 190.83,451.00 193.60,451.00 C196.37,451.00 196.57,495.50 200.20,495.50" fill="none" stroke="#6d5c6c" stroke-width="0.75"/>
<path d="M199.00,495.50 C202.63,495.50 202.83,478.10 205.60,478.10 C208.37,478.10 208.57,495.50 212.20,495.50" fill="none" stroke="#e67e7e" stroke-width="0.75"/>
<path d="M209.80,495.50 C213.43,495.50 213.63,472.20 216.40,472.20 C219.17,472.20 219.37,495.50 223.00,495.50" fill="none" stroke="#84d09a" stroke-width="0.75"/>
<path d="M220.80,495.50 C224.43,495.50 224.63,473.90 227.40,473.90 C230.17,473.90 230.37,495.50 234.00,495.50" fill="none" stroke="#e67e7e" stroke-width="0.75"/>
</g>
<rect x="134.3" y="495.25" width="98.79999999999998" height="0.8" fill="#4a444c"/>
<text x="138" y="449.7" class="ns" font-size="3.9" text-anchor="middle" fill="#62bd78" stroke="#62bd78" stroke-width="0.12">A</text>
<text x="148.5" y="449.7" class="ns" font-size="3.9" text-anchor="middle" fill="#e06a6a" stroke="#e06a6a" stroke-width="0.12">T</text>
<text x="159.7" y="449.7" class="ns" font-size="3.9" text-anchor="middle" fill="#6c6cd4" stroke="#6c6cd4" stroke-width="0.12">C</text>
<text x="170.3" y="449.7" class="ns" font-size="3.9" text-anchor="middle" fill="#62bd78" stroke="#62bd78" stroke-width="0.12">A</text>
<text x="180.9" y="449.7" class="ns" font-size="3.9" text-anchor="middle" fill="#e06a6a" stroke="#e06a6a" stroke-width="0.12">T</text>
<text x="193.6" y="449.7" class="ns" font-size="3.9" text-anchor="middle" fill="#555" stroke="#555" stroke-width="0.12">G</text>
<text x="205.2" y="449.7" class="ns" font-size="3.9" text-anchor="middle" fill="#e06a6a" stroke="#e06a6a" stroke-width="0.12">T</text>
<text x="216.4" y="449.7" class="ns" font-size="3.9" text-anchor="middle" fill="#62bd78" stroke="#62bd78" stroke-width="0.12">A</text>
<text x="227" y="449.7" class="ns" font-size="3.9" text-anchor="middle" fill="#e06a6a" stroke="#e06a6a" stroke-width="0.12">T</text>
<text x="203" y="446.7" class="ns" font-size="3" text-anchor="middle" fill="#666">230</text>
<path d="M205.6,455.9 L205.6,472.0 M202.7,468.90000000000003 L205.6,472.6 L208.5,468.90000000000003" fill="none" stroke="#111" stroke-width="1.15"/>
<text x="201.5" y="503.1" font-size="6.4" text-anchor="end" fill="#111">G</text>
<rect x="202.5" y="500.15000000000003" width="4.6" height="1.3" fill="#111"/>
<path d="M209.89999999999998,500.8 L206.1,498.7 L206.1,502.90000000000003 Z" fill="#111"/>
<text x="212.6" y="503.1" font-size="6.4" fill="#111">T</text>
<clipPath id="cl5"><rect x="247.4" y="443" width="97.70000000000002" height="54"/></clipPath>
<text x="247.20000000000002" y="439.90000000000003" font-size="6.15" fill="#111">ATL #034</text>
<rect x="245.3" y="442.0" width="99.80000000000001" height="1.3" fill="#a4a4a4"/>
<g clip-path="url(#cl5)">
<path d="M244.40,495.00 C247.81,495.00 248.00,478.50 250.60,478.50 C253.20,478.50 253.39,495.00 256.80,495.00" fill="none" stroke="#6d5c6c" stroke-width="0.75"/>
<path d="M257.50,495.00 C260.91,495.00 261.10,459.50 263.70,459.50 C266.30,459.50 266.49,495.00 269.90,495.00" fill="none" stroke="#84d09a" stroke-width="0.75"/>
<path d="M268.10,495.00 C271.51,495.00 271.70,464.80 274.30,464.80 C276.90,464.80 277.09,495.00 280.50,495.00" fill="none" stroke="#84d09a" stroke-width="0.75"/>
<path d="M279.30,495.00 C282.71,495.00 282.90,475.40 285.50,475.40 C288.10,475.40 288.29,495.00 291.70,495.00" fill="none" stroke="#6d5c6c" stroke-width="0.75"/>
<path d="M291.30,495.00 C294.71,495.00 294.90,453.60 297.50,453.60 C300.10,453.60 300.29,495.00 303.70,495.00" fill="none" stroke="#6d5c6c" stroke-width="0.75"/>
<path d="M303.00,495.00 C306.41,495.00 306.60,463.70 309.20,463.70 C311.80,463.70 311.99,495.00 315.40,495.00" fill="none" stroke="#84d09a" stroke-width="0.75"/>
<path d="M313.10,495.00 C316.51,495.00 316.70,472.60 319.30,472.60 C321.90,472.60 322.09,495.00 325.50,495.00" fill="none" stroke="#7c7cda" stroke-width="0.75"/>
<path d="M310.40,495.00 C313.81,495.00 314.00,479.60 316.60,479.60 C319.20,479.60 319.39,495.00 322.80,495.00" fill="none" stroke="#6d5c6c" stroke-width="0.75"/>
<path d="M324.30,495.00 C327.71,495.00 327.90,465.80 330.50,465.80 C333.10,465.80 333.29,495.00 336.70,495.00" fill="none" stroke="#84d09a" stroke-width="0.75"/>
<path d="M334.90,495.00 C338.31,495.00 338.50,468.00 341.10,468.00 C343.70,468.00 343.89,495.00 347.30,495.00" fill="none" stroke="#e67e7e" stroke-width="0.75"/>
<path d="M250.50,495.00 C252.97,495.00 253.11,493.00 255.00,493.00 C256.89,493.00 257.02,495.00 259.50,495.00" fill="none" stroke="#84d09a" stroke-width="0.5"/>
<path d="M261.50,495.00 C263.98,495.00 264.11,492.80 266.00,492.80 C267.89,492.80 268.02,495.00 270.50,495.00" fill="none" stroke="#e67e7e" stroke-width="0.5"/>
<path d="M275.50,495.00 C277.98,495.00 278.11,493.00 280.00,493.00 C281.89,493.00 282.02,495.00 284.50,495.00" fill="none" stroke="#7c7cda" stroke-width="0.5"/>
<path d="M288.50,495.00 C290.98,495.00 291.11,492.00 293.00,492.00 C294.89,492.00 295.02,495.00 297.50,495.00" fill="none" stroke="#84d09a" stroke-width="0.5"/>
<path d="M300.50,495.00 C302.98,495.00 303.11,492.50 305.00,492.50 C306.89,492.50 307.02,495.00 309.50,495.00" fill="none" stroke="#e67e7e" stroke-width="0.5"/>
<path d="M308.50,495.00 C310.98,495.00 311.11,493.00 313.00,493.00 C314.89,493.00 315.02,495.00 317.50,495.00" fill="none" stroke="#7c7cda" stroke-width="0.5"/>
<path d="M322.50,495.00 C324.98,495.00 325.11,492.80 327.00,492.80 C328.89,492.80 329.02,495.00 331.50,495.00" fill="none" stroke="#e67e7e" stroke-width="0.5"/>
<path d="M335.50,495.00 C337.98,495.00 338.11,492.50 340.00,492.50 C341.89,492.50 342.02,495.00 344.50,495.00" fill="none" stroke="#84d09a" stroke-width="0.5"/>
<path d="M331.50,495.00 C333.98,495.00 334.11,493.20 336.00,493.20 C337.89,493.20 338.02,495.00 340.50,495.00" fill="none" stroke="#7c7cda" stroke-width="0.5"/>
</g>
<rect x="247.4" y="494.75" width="97.70000000000002" height="0.8" fill="#4a444c"/>
<text x="250.6" y="449.7" class="ns" font-size="3.9" text-anchor="middle" fill="#555" stroke="#555" stroke-width="0.12">G</text>
<text x="263.3" y="449.7" class="ns" font-size="3.9" text-anchor="middle" fill="#62bd78" stroke="#62bd78" stroke-width="0.12">A</text>
<text x="273.8" y="449.7" class="ns" font-size="3.9" text-anchor="middle" fill="#62bd78" stroke="#62bd78" stroke-width="0.12">A</text>
<text x="285.5" y="449.7" class="ns" font-size="3.9" text-anchor="middle" fill="#555" stroke="#555" stroke-width="0.12">G</text>
<text x="297.1" y="449.7" class="ns" font-size="3.9" text-anchor="middle" fill="#555" stroke="#555" stroke-width="0.12">G</text>
<text x="308.8" y="449.7" class="ns" font-size="3.9" text-anchor="middle" fill="#62bd78" stroke="#62bd78" stroke-width="0.12">A</text>
<text x="318.7" y="449.7" class="ns" font-size="3.9" text-anchor="middle" fill="#6c6cd4" stroke="#6c6cd4" stroke-width="0.12">C</text>
<text x="331" y="449.7" class="ns" font-size="3.9" text-anchor="middle" fill="#62bd78" stroke="#62bd78" stroke-width="0.12">A</text>
<text x="341.1" y="449.7" class="ns" font-size="3.9" text-anchor="middle" fill="#e06a6a" stroke="#e06a6a" stroke-width="0.12">T</text>
<text x="308.8" y="446.7" class="ns" font-size="3" text-anchor="middle" fill="#666">130</text>
<path d="M316.4,455.3 L316.4,471.2 M313.5,468.1 L316.4,471.8 L319.29999999999995,468.1" fill="none" stroke="#111" stroke-width="1.15"/>
<text x="312.6" y="503.1" font-size="6.4" text-anchor="end" fill="#111">C</text>
<rect x="313.6" y="500.15000000000003" width="4.6" height="1.3" fill="#111"/>
<path d="M321.0,500.8 L317.2,498.7 L317.2,502.90000000000003 Z" fill="#111"/>
<text x="323.7" y="503.1" font-size="6.4" fill="#111">G</text>
</g>
<g id="panelD">
<text x="379.2" y="296.6" font-size="11.3" font-weight="bold" fill="#111">D</text>
<rect x="391" y="303.7" width="121.95" height="198.85" fill="#fff" stroke="#1c1c1c" stroke-width="1.4"/>
<rect x="391.5" y="304.3" width="120.6" height="20.2" fill="#4a7cc3"/>
<rect x="390.3" y="324.2" width="123" height="1.7" fill="#1a1a2a"/>
<rect x="390.3" y="303.1" width="123" height="1.3" fill="#1a1a2a"/>
<rect x="392.5" y="325.9" width="118" height="15.50" fill="#ececec"/>
<text x="397.6" y="333.60" font-size="5.6" fill="#222">ATL004</text>
<text x="448.5" y="333.60" font-size="5.6" text-anchor="middle" fill="#222">I659L</text>
<text x="493.5" y="333.60" font-size="5.8" text-anchor="middle" fill="#222">UN</text>
<text x="397.6" y="351.20" font-size="5.6" fill="#222">ATL007</text>
<text x="448.5" y="351.20" font-size="5.6" text-anchor="middle" fill="#222">Y640F</text>
<text x="493.5" y="351.20" font-size="5.8" text-anchor="middle" fill="#222">Activating</text>
<rect x="392.5" y="358.5" width="118" height="17.00" fill="#ececec"/>
<text x="397.6" y="368.00" font-size="5.6" fill="#222">ATL010</text>
<text x="448.5" y="368.00" font-size="5.6" text-anchor="middle" fill="#222">D661Y</text>
<text x="493.5" y="368.00" font-size="5.8" text-anchor="middle" fill="#222">Activating</text>
<text x="397.6" y="385.00" font-size="5.6" fill="#222">ATL012</text>
<text x="448.5" y="385.00" font-size="5.6" text-anchor="middle" fill="#222">G618R</text>
<text x="493.5" y="385.00" font-size="5.8" text-anchor="middle" fill="#222">Activating</text>
<rect x="392.5" y="393.5" width="118" height="12.40" fill="#ececec"/>
<text x="397.6" y="402.10" font-size="5.6" fill="#222">ATL016</text>
<text x="448.5" y="402.10" font-size="5.6" text-anchor="middle" fill="#222">D661Y</text>
<text x="493.5" y="402.10" font-size="5.8" text-anchor="middle" fill="#222">Activating</text>
<text x="397.6" y="414.20" font-size="5.6" fill="#222">ATL025</text>
<text x="448.5" y="414.20" font-size="5.6" text-anchor="middle" fill="#222">G618R</text>
<text x="493.5" y="414.20" font-size="5.8" text-anchor="middle" fill="#222">Activating</text>
<rect x="392.5" y="418.8" width="118" height="20.20" fill="#ececec"/>
<text x="397.6" y="427.20" font-size="5.6" fill="#222">ATL026</text>
<text x="448.5" y="427.20" font-size="5.6" text-anchor="middle" fill="#222">G618R</text>
<text x="448.5" y="434.70" font-size="5.6" text-anchor="middle" fill="#222">Y640F</text>
<text x="493.5" y="427.20" font-size="5.8" text-anchor="middle" fill="#222">Activating</text>
<text x="493.5" y="434.70" font-size="5.8" text-anchor="middle" fill="#222">Activating</text>
<text x="397.6" y="447.40" font-size="5.6" fill="#222">ATL032</text>
<text x="448.5" y="447.40" font-size="5.6" text-anchor="middle" fill="#222">Y640F</text>
<text x="493.5" y="447.40" font-size="5.8" text-anchor="middle" fill="#222">Activating</text>
<rect x="392.5" y="452" width="118" height="12.40" fill="#ececec"/>
<text x="397.6" y="460.60" font-size="5.6" fill="#222">ATL034</text>
<text x="448.5" y="460.60" font-size="5.6" text-anchor="middle" fill="#222">D627E</text>
<text x="493.5" y="460.60" font-size="5.8" text-anchor="middle" fill="#222">UN</text>
<text x="397.6" y="473.00" font-size="5.6" fill="#222">ATL036</text>
<text x="448.5" y="473.00" font-size="5.6" text-anchor="middle" fill="#222">G618R</text>
<text x="493.5" y="473.00" font-size="5.8" text-anchor="middle" fill="#222">Activating</text>
<rect x="392.5" y="477.1" width="118" height="12.40" fill="#ececec"/>
<text x="397.6" y="485.70" font-size="5.6" fill="#222">ATL039</text>
<text x="448.5" y="485.70" font-size="5.6" text-anchor="middle" fill="#222">D661Y</text>
<text x="493.5" y="485.70" font-size="5.8" text-anchor="middle" fill="#222">Activating</text>
<text x="397.6" y="498.70" font-size="5.6" fill="#222">ATL040</text>
<text x="448.5" y="498.70" font-size="5.6" text-anchor="middle" fill="#222">D627E</text>
<text x="493.5" y="498.70" font-size="5.8" text-anchor="middle" fill="#222">UN</text>
<text x="396.7" y="311.8" font-size="6.2" class="ns" font-weight="bold" fill="#eef3fb">Patient</text>
<text x="448.5" y="311.8" font-size="6.2" class="ns" font-weight="bold" text-anchor="middle" fill="#eef3fb">STAT3</text>
<text x="448.5" y="320.7" font-size="6.2" class="ns" font-weight="bold" text-anchor="middle" fill="#eef3fb">Mutation</text>
<text x="493.2" y="311.8" font-size="6.2" class="ns" font-weight="bold" text-anchor="middle" fill="#eef3fb">Result</text>
</g>
<rect x="0.5" y="0.5" width="519" height="509" fill="none" stroke="#111" stroke-width="1"/>
</svg>
</body></html>
